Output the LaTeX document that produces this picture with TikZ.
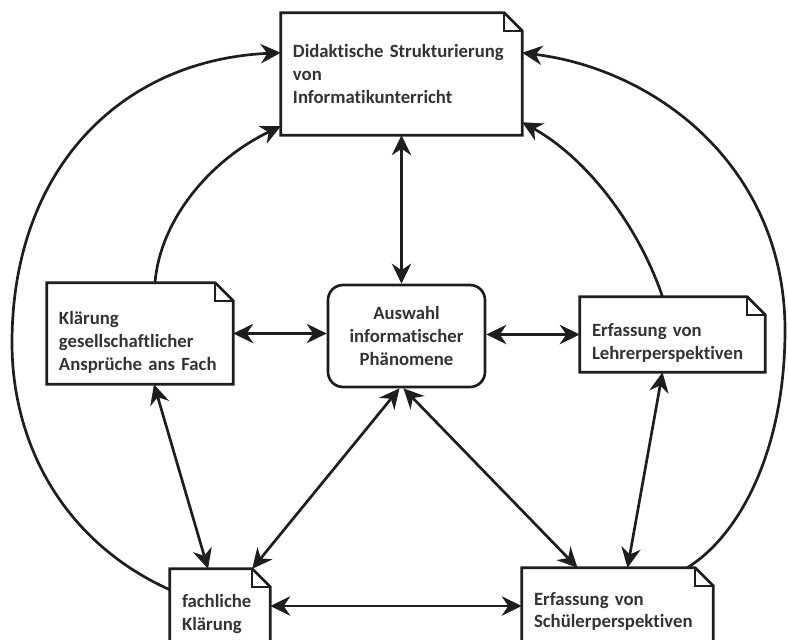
\documentclass[tikz,border=0pt]{standalone}
\usepackage{fontspec}
\setmainfont{Carlito}[Ligatures={NoCommon}]
\usetikzlibrary{calc,arrows.meta}

\definecolor{inkgray}{HTML}{1E1E1E}
\definecolor{textgray}{HTML}{333333}
\newcommand{\notefont}{\fontsize{16pt}{19.5pt}\selectfont\bfseries}
\def\fold{18}

\tikzset{
	>={Stealth[length=0.6cm,width=0.58cm]},
	note/.style={inner xsep=0.36cm, inner ysep=0pt, align=left, font=\notefont, text=textgray},
	pushdown/.style={execute at begin node={\rule{0pt}{#1}}},
	notebox/.style={line width=2.3pt, draw=inkgray, line join=miter},
	link/.style={line width=2.3pt, draw=inkgray},
}

\begin{document}
\begin{tikzpicture}[x=0.03cm, y=-0.03cm]
			%%%%% START %%%%%
			\useasboundingbox (0,0) rectangle (788,639);
			\clip (0,0) rectangle (788,639);
			
			\node[note, minimum width=7.23cm, minimum height=3.66cm, text width=6.51cm] (didaktik) at (401.5, 74) {Didaktische Strukturierung\\von\\Informatikunterricht};
			\node[note, pushdown=26pt, minimum width=5.58cm, minimum height=3.03cm, text width=4.86cm] (ansprueche) at (140, 333.5) {Klärung\\gesellschaftlicher\\Ansprüche ans Fach};
			\node[note, pushdown=26pt, minimum width=5.55cm, minimum height=2.25cm, text width=4.83cm] (lehrer) at (672.5, 334.5) {Erfassung von\\Lehrerperspektiven};
			\node[note, minimum width=3.0cm, minimum height=2.7cm, text width=2.28cm] (fachlich) at (220, 614) {fachliche\\Klärung};
			\node[note, minimum width=5.73cm, minimum height=2.61cm, text width=5.01cm] (schueler) at (617.5, 611.5) {Erfassung von\\Schülerperspektiven};
			
			\node[note, pushdown=16pt, draw=inkgray, line width=2.3pt, rounded corners=0.45cm, align=center, minimum width=4.71cm, minimum height=3.06cm] (auswahl) at (406.5, 336) {Auswahl\\informatischer\\Phänomene};
			
			% dog-eared frames
			\foreach \n in {didaktik,ansprueche,lehrer,fachlich,schueler}{
				\draw[notebox] (\n.north west) -- ($(\n.north east)+(-\fold,0)$) -- ($(\n.north east)+(0,\fold)$) -- (\n.south east) -- (\n.south west) -- cycle;
				\draw[notebox, line width=1.6pt] ($(\n.north east)+(-\fold,0)$) |- ($(\n.north east)+(0,\fold)$);
			}
			
			% straight links
			\draw[link, <->] (didaktik.south) -- (didaktik.south |- auswahl.north);
			\draw[link, <->] (ansprueche.east) -- (ansprueche.east -| auswahl.west);
			\draw[link, <->] (lehrer.west -| auswahl.east) -- (lehrer.west);
			\draw[link, <->] ($(ansprueche.south)+(14,0)$) -- ($(fachlich.north)+(-12,0)$);
			\draw[link, <->] ($(auswahl.south)+(-7,0)$) -- ($(fachlich.north east)+(-\fold,0)$);
			\draw[link, <->] ($(auswahl.south)+(-3,0)$) -- ($(schueler.north)+(-40,0)$);
			\draw[link, <->] ($(lehrer.south)+(-10,0)$) -- ($(schueler.north)+(10,0)$);
			\draw[link, <->] ($(fachlich.east)+(0,-8)$) -- ($(schueler.west)+(0,-5.5)$);
			
			% curved links
			\draw[link, ->] ($(fachlich.north west)+(0,21)$) .. controls (60,540) and (12,440) .. (12,343) .. controls (12,170) and (120,60) .. ($(didaktik.north west)+(0,40)$);
			\draw[link, ->] ($(ansprueche.north)+(15,0)$) .. controls (160,220) and (210,160) .. ($(didaktik.south west)+(0,-9)$);
			\draw[link, ->] ($(schueler.north east)+(-26,0)$) .. controls (740,535) and (785,450) .. (785,330) .. controls (785,170) and (660,70) .. ($(didaktik.north east)+(0,40)$);
			\draw[link, ->] ($(lehrer.north)+(-10,0)$) .. controls (640,230) and (590,160) .. ($(didaktik.south east)+(0,-13)$);
			
			%%%%% END %%%%%
\end{tikzpicture}
\end{document}
